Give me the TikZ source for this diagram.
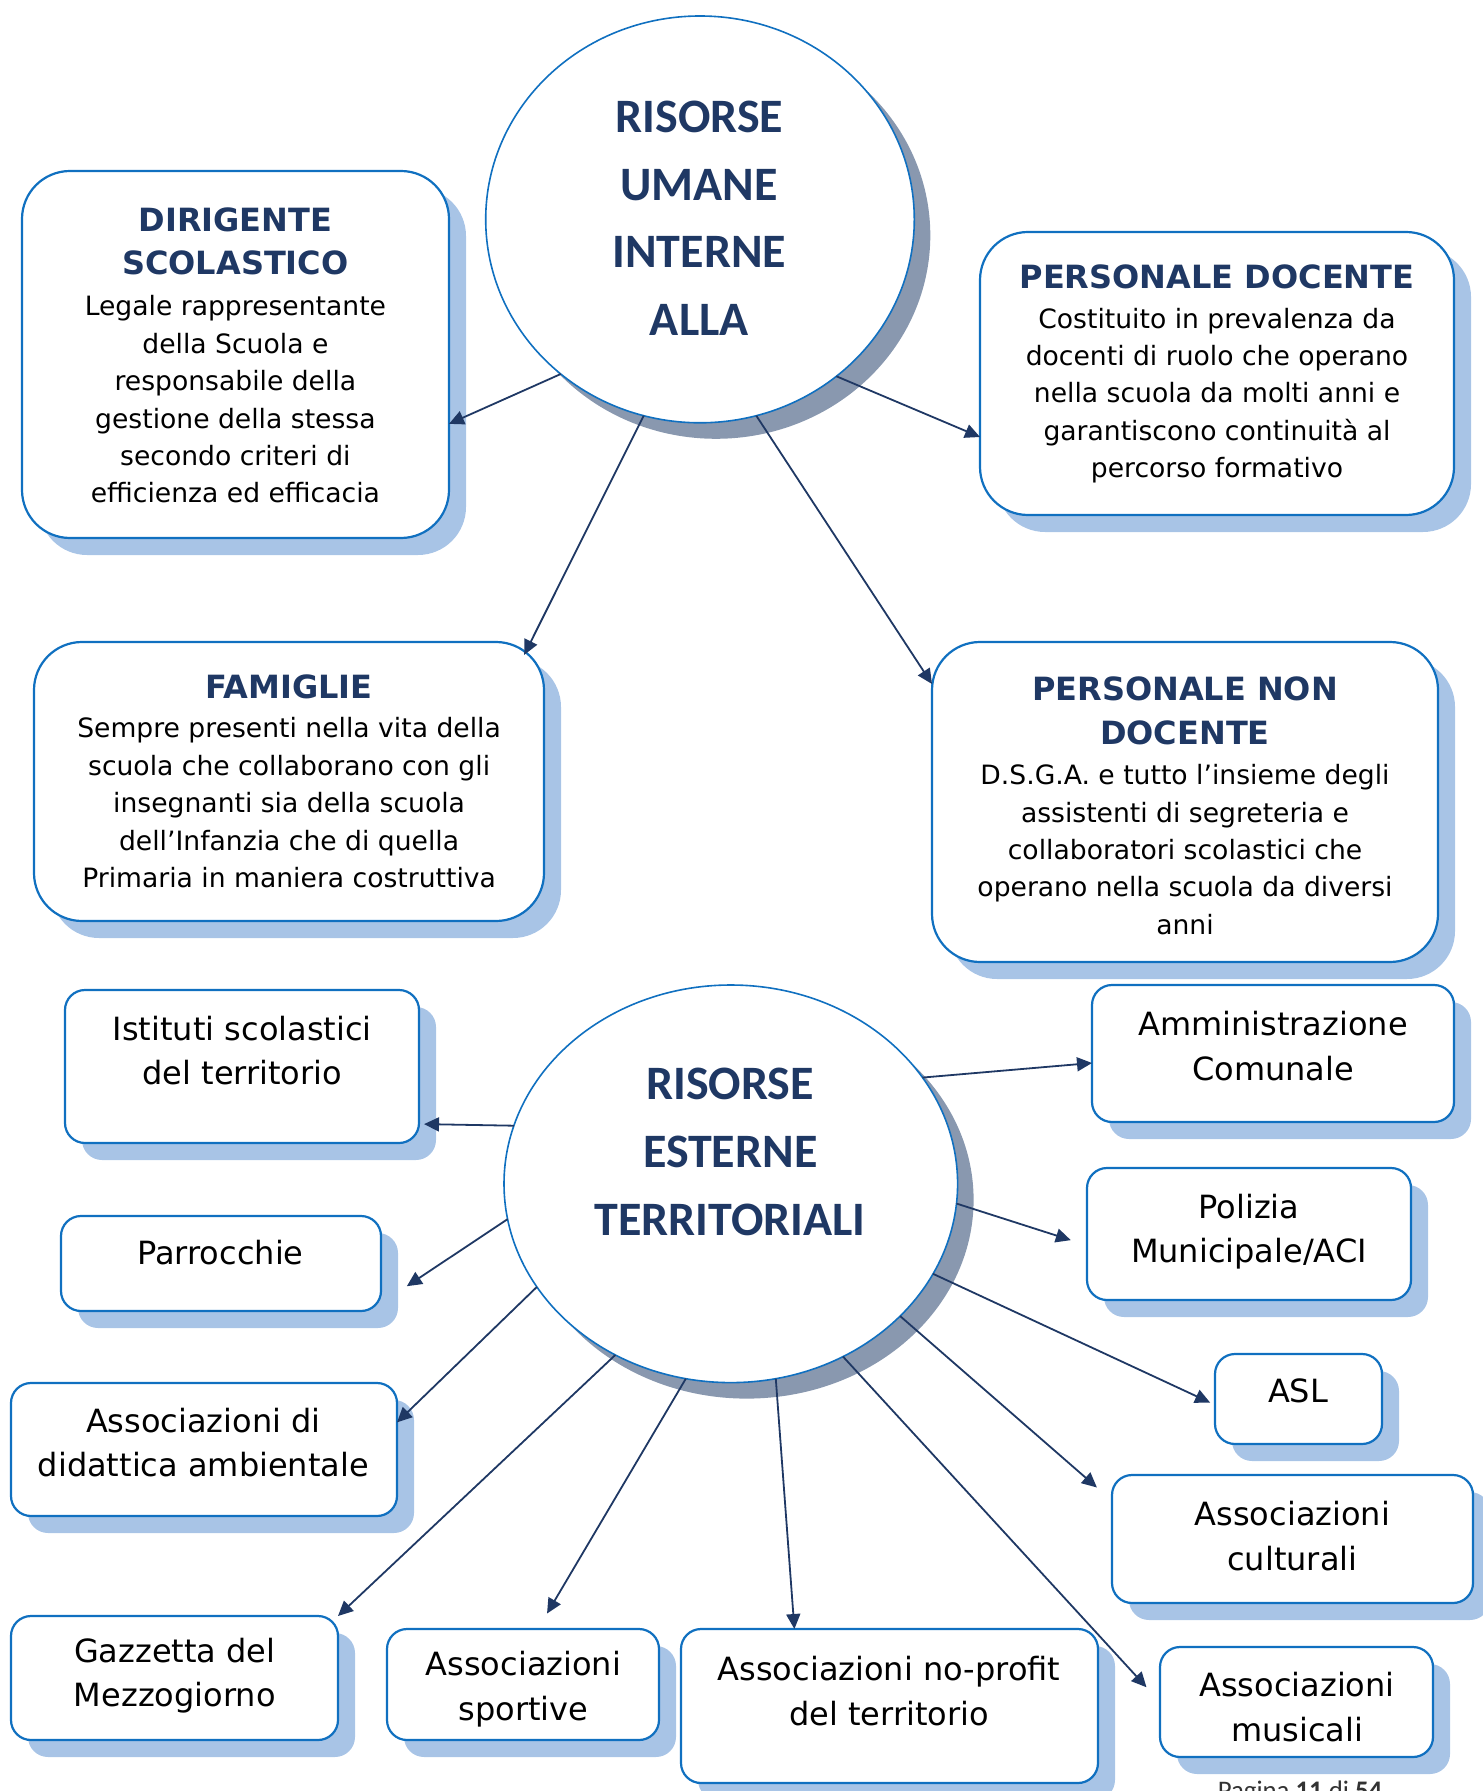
\documentclass[tikz,border=0pt]{standalone}
\usepackage{fontspec}
\setmainfont{DejaVu Sans}
\newfontfamily\circfont{Carlito}
\usetikzlibrary{arrows.meta, shapes.geometric, shadows}

\definecolor{bordblue}{RGB}{16,112,192}
\definecolor{shadeblue}{RGB}{168,196,230}
\definecolor{shadegray}{RGB}{137,152,175}
\definecolor{navy}{RGB}{31,56,100}

\begin{document}
\begin{tikzpicture}
[x=0.5pt, y=-0.5pt,
 circ/.style={ellipse, draw=bordblue, line width=0.8pt, fill=white, inner sep=0pt, outer sep=0pt,
   drop shadow={shadow xshift=8pt, shadow yshift=-8pt, fill=shadegray, opacity=1}},
 bigbox/.style={rectangle, rounded corners=24pt, draw=bordblue, line width=1.1pt, fill=white, inner sep=0pt, outer sep=0pt,
   drop shadow={shadow xshift=8.5pt, shadow yshift=-8.5pt, fill=shadeblue, opacity=1}},
 smallbox/.style={bigbox, rounded corners=10pt},
 circ text/.style={font=\circfont\bfseries\fontsize{24}{33.9}\selectfont, text=navy, align=center},
 boxtitle/.style={font=\bfseries\fontsize{16}{21.7}\selectfont, text=navy, align=center},
 boxbody/.style={font=\fontsize{13.3}{18.7}\selectfont, align=center},
 boxtext/.style={font=\fontsize{16}{22.3}\selectfont, align=center},
 link/.style={draw=navy, line width=0.9pt, -{Triangle[length=7.5pt, width=7pt]}}]
\useasboundingbox (0,0) rectangle (1482,1791);

% risorse interne
\node[circ, minimum width=214.3pt, minimum height=203.4pt] (int) at (700,219.4) {};
\node[circ text] (intT) at (699.3,218.3) {RISORSE\\UMANE\\INTERNE\\ALLA};

\node[bigbox, minimum width=213.5pt, minimum height=183.5pt] (dir) at (235.5,354.5) {};
\node[boxtitle] (dirT) at (235.4,241.1) {DIRIGENTE\\SCOLASTICO};
\node[boxbody] (dirB) at (235.4,399.4) {Legale rappresentante\\della Scuola e\\responsabile della\\gestione della stessa\\secondo criteri di\\efficienza ed efficacia};

\node[bigbox, minimum width=237pt, minimum height=141.5pt] (doc) at (1217,373.5) {};
\node[boxtitle] (docT) at (1217,276.5) {PERSONALE DOCENTE};
\node[boxbody] (docB) at (1217,395.6) {Costituito in prevalenza da\\docenti di ruolo che operano\\nella scuola da molti anni e\\garantiscono continuità al\\percorso formativo};

\node[bigbox, minimum width=255pt, minimum height=139.5pt] (fam) at (289,781.5) {};
\node[boxtitle] (famT) at (289.1,686.8) {FAMIGLIE};
\node[boxbody] (famB) at (289.1,802.8) {Sempre presenti nella vita della\\scuola che collaborano con gli\\insegnanti sia della scuola\\dell’Infanzia che di quella\\Primaria in maniera costruttiva};

\node[bigbox, minimum width=253pt, minimum height=160pt] (ata) at (1185,802) {};
\node[boxtitle] (ataT) at (1185,710.8) {PERSONALE NON\\DOCENTE};
\node[boxbody] (ataB) at (1185,849.6) {D.S.G.A. e tutto l’insieme degli\\assistenti di segreteria e\\collaboratori scolastici che\\operano nella scuola da diversi\\anni};

\draw[link] (int.228) -- (dir.342);
\draw[link] (int.311) -- (doc.195);
\draw[link, shorten >=-7.2pt] (int.254) -- (fam.30);
\draw[link] (int.286) -- (ata.155);

% risorse esterne
\node[circ, minimum width=226.8pt, minimum height=198.8pt] (ext) at (730.8,1183.8) {};
\node[circ text] (extT) at (730.2,1151.8) {RISORSE\\ESTERNE\\TERRITORIALI};

\node[smallbox, minimum width=177pt, minimum height=76.5pt] (ist) at (242,1066.5) {};
\node[boxtext] (istT) at (242.3,1050.7) {Istituti scolastici\\del territorio};
\node[smallbox, minimum width=160pt, minimum height=47.5pt] (parr) at (221,1263.5) {};
\node[boxtext] (parrT) at (220.5,1252.4) {Parrocchie};
\node[smallbox, minimum width=193pt, minimum height=66.5pt] (did) at (204,1449.5) {};
\node[boxtext] (didT) at (203.4,1442.7) {Associazioni di\\didattica ambientale};
\node[smallbox, minimum width=163.5pt, minimum height=62pt] (gaz) at (174.5,1678) {};
\node[boxtext] (gazT) at (174.8,1675.8) {Gazzetta del\\Mezzogiorno};
\node[smallbox, minimum width=136pt, minimum height=55.5pt] (spo) at (523,1684.5) {};
\node[boxtext] (spoT) at (523.4,1688.9) {Associazioni\\sportive};
\node[smallbox, minimum width=208.5pt, minimum height=77pt] (nop) at (889.5,1706) {};
\node[boxtext] (nopT) at (889,1691.2) {Associazioni no-profit\\del territorio};
\node[smallbox, minimum width=136.5pt, minimum height=55pt] (mus) at (1296.5,1702) {};
\node[boxtext] (musT) at (1297,1707.2) {Associazioni\\musicali};
\node[smallbox, minimum width=181pt, minimum height=68.5pt] (amm) at (1273,1053.5) {};
\node[boxtext] (ammT) at (1273,1046.2) {Amministrazione\\Comunale};
\node[smallbox, minimum width=162pt, minimum height=66pt] (pol) at (1249,1234) {};
\node[boxtext] (polT) at (1249,1231.5) {Polizia\\Municipale/ACI};
\node[smallbox, minimum width=83.5pt, minimum height=45pt] (asl) at (1298.5,1399) {};
\node[boxtext] (aslT) at (1298,1390.7) {ASL};
\node[smallbox, minimum width=180.5pt, minimum height=64pt] (cul) at (1292.5,1539) {};
\node[boxtext] (culT) at (1292.4,1535.8) {Associazioni\\culturali};

\draw[link, shorten >=2.5pt] (ext.165) -- (ist.342);
\draw[link] (ext.29) -- (amm.183);
\draw[link, shorten >=15.5pt] (ext.189) -- (parr.346);
\draw[link, shorten >=8.5pt] (ext.355) -- (pol.184);
\draw[link] (ext.208) -- (did.8);
\draw[link, shorten >=2.7pt] (ext.336) -- (asl.184);
\draw[link] (ext.236) -- (gaz.north east);
\draw[link, shorten >=10pt] (ext.322) -- (cul.168);
\draw[link, shorten >=9pt] (ext.257) -- (spo.75);
\draw[link] (ext.283) -- (nop.141);
\draw[link, shorten >=10pt] (ext.303) -- (mus.west);

\node[font=\circfont\fontsize{13.4}{16}\selectfont, text=black!80, anchor=base] (pag) at (1300,1799) {Pagina \textbf{11} di \textbf{54}};
\end{tikzpicture}
\end{document}
